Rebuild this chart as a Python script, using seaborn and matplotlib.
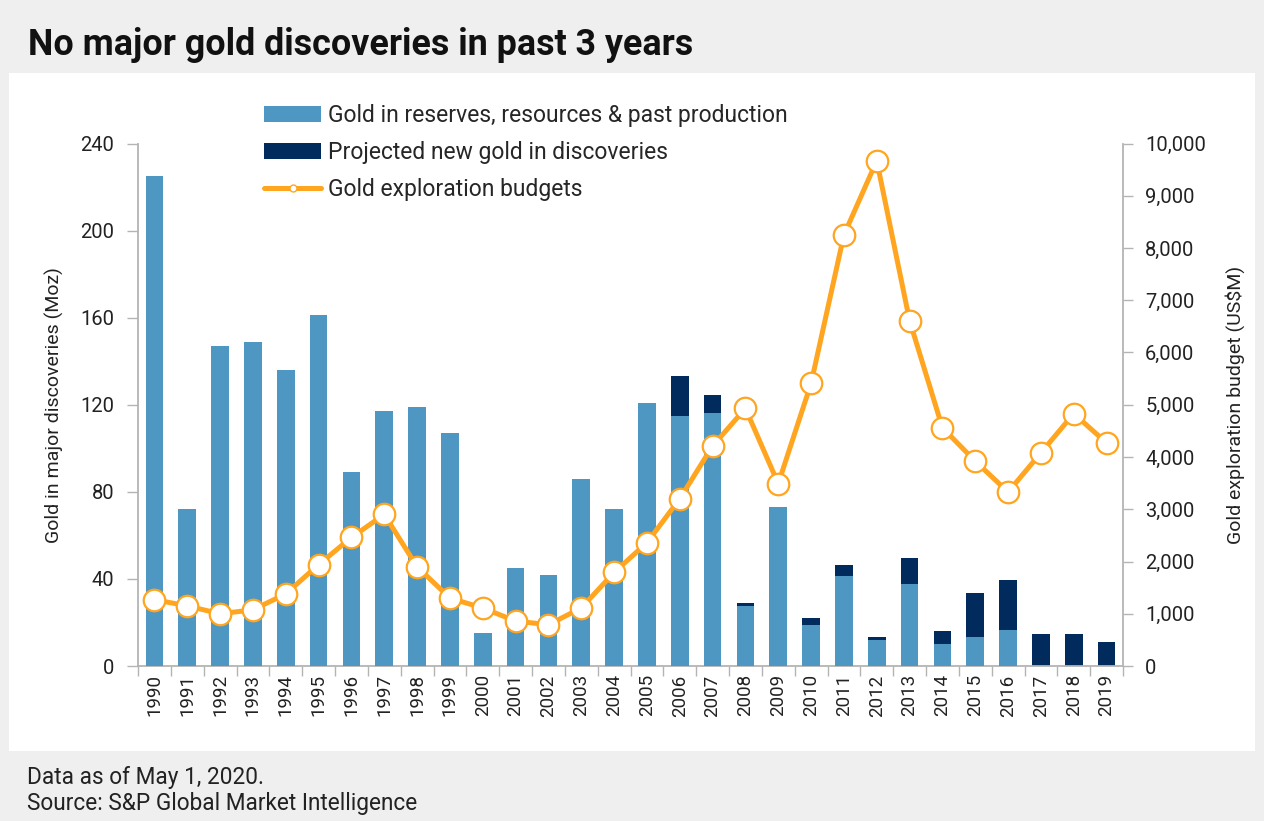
import matplotlib
matplotlib.use("Agg")
import matplotlib.pyplot as plt
import matplotlib.ticker as mticker
from matplotlib.patches import Rectangle, Patch
from matplotlib.lines import Line2D
import numpy as np
import pandas as pd
import seaborn as sns

sns.set_theme(style="white")
plt.rcParams['font.family'] = ['Roboto', 'DejaVu Sans']

## Data
years = [str(y) for y in range(1990, 2020)]
reserves = [225, 72, 147, 149, 136, 161, 89, 117, 119, 107,
            15, 45, 42, 86, 72, 121, 115, 116, 27.5, 73,
            19, 41.5, 12, 37.5, 10, 13.5, 16.5, 0, 0, 0]
projected = [0, 0, 0, 0, 0, 0, 0, 0, 0, 0,
             0, 0, 0, 0, 0, 0, 18, 8.5, 1.5, 0,
             3, 5, 1.5, 12, 6, 20, 23, 14.5, 14.5, 11]
budgets = [1270, 1150, 1000, 1075, 1380, 1940, 2460, 2900, 1900, 1300,
           1110, 860, 790, 1110, 1790, 2360, 3200, 4210, 4930, 3490,
           5410, 8250, 9670, 6610, 4560, 3920, 3330, 4080, 4830, 4270]

df = pd.DataFrame({"Year": years, "Reserves": reserves, "Projected": projected,
                   "Budget": budgets})
df["Total"] = df["Reserves"] + df["Projected"]
df["pos"] = np.arange(len(df))

light_blue = "#4E97C2"
navy = "#002B5C"
orange = "#FFA51F"
grey = "#B4B4B4"

## Figure
fig = plt.figure(figsize=(12.64, 8.21), dpi=100)
fig.patch.set_facecolor("#EFEFEF")
fig.patches.append(Rectangle((9 / 1264, 1 - 751 / 821), 1246 / 1264, 678 / 821,
                             transform=fig.transFigure, facecolor="white",
                             edgecolor="none", zorder=-5))

ax = fig.add_axes([138 / 1264, 1 - 666 / 821, 985 / 1264, 522.5 / 821])
ax.set_facecolor("none")

sns.barplot(data=df, x="Year", y="Total", color=navy, width=0.54, ax=ax,
            saturation=1, linewidth=0, zorder=2)
sns.barplot(data=df, x="Year", y="Reserves", color=light_blue, width=0.54, ax=ax,
            saturation=1, linewidth=0, zorder=3)

ax.set_xlim(-0.5, len(df) - 0.5)
ax.set_ylim(0, 240)
ax.set_yticks(np.arange(0, 241, 40))
ax.tick_params(axis="y", labelsize=14.5, colors="#222222", length=8, width=1,
               direction="out", left=True, color=grey, pad=9)
ax.tick_params(axis="x", labelsize=13.5, rotation=90, length=0, pad=6, colors="#222222")
ax.xaxis.set_minor_locator(mticker.FixedLocator(np.arange(-0.5, len(df), 1)))
ax.tick_params(axis="x", which="minor", bottom=True, length=7, width=1, color=grey,
               direction="out")
ax.set_xlabel("")
ax.set_ylabel("Gold in major discoveries (Moz)", fontsize=14, color="#222222",
              labelpad=12)
for s in ["top", "right"]:
    ax.spines[s].set_visible(False)
for s in ["left", "bottom"]:
    ax.spines[s].set_color(grey)
    ax.spines[s].set_linewidth(1.3)
ax.grid(False)

## Secondary axis
ax2 = ax.twinx()
sns.lineplot(data=df, x="pos", y="Budget", ax=ax2, color=orange, linewidth=3.6,
             marker="o", markersize=15.5, markerfacecolor="white",
             markeredgecolor=orange, markeredgewidth=1.6, zorder=5)
ax2.set_ylim(0, 10000)
ax2.set_yticks(np.arange(0, 10001, 1000))
ax2.yaxis.set_major_formatter(mticker.StrMethodFormatter("{x:,.0f}"))
ax2.tick_params(axis="y", labelsize=14.5, colors="#222222", length=7, width=1,
                direction="out", right=True, color=grey, pad=9)
ax2.set_ylabel("Gold exploration budget (US$M)", fontsize=14, color="#222222",
               labelpad=14)
ax2.set_xlabel("")
for s in ["top", "left", "bottom"]:
    ax2.spines[s].set_visible(False)
ax2.spines["right"].set_color(grey)
ax2.spines["right"].set_linewidth(1.3)
ax2.grid(False)

## Legend
handles = [Patch(facecolor=light_blue, edgecolor="none"),
           Patch(facecolor=navy, edgecolor="none"),
           Line2D([0], [0], color=orange, linewidth=3.6, marker="o", markersize=5,
                  markerfacecolor="white", markeredgecolor=orange)]
labels = ["Gold in reserves, resources & past production",
          "Projected new gold in discoveries",
          "Gold exploration budgets"]
fig.legend(handles, labels, loc="upper left", bbox_to_anchor=(255 / 1264, 1 - 95 / 821),
           frameon=False, fontsize=16.5, handlelength=2.5, handleheight=0.7,
           handletextpad=0.3, labelspacing=0.6, borderaxespad=0)

## Titles
fig.text(28 / 1264, 1 - 45 / 821, "No major gold discoveries in past 3 years",
         fontsize=25.8, fontweight="bold", color="#111111", va="center", ha="left")
fig.text(27 / 1264, 1 - 777 / 821, "Data as of May 1, 2020.", fontsize=16.3,
         color="#222222", va="center", ha="left")
fig.text(27 / 1264, 1 - 803 / 821, "Source: S&P Global Market Intelligence",
         fontsize=16.3, color="#222222", va="center", ha="left")

fig.savefig("out.png", dpi=100, facecolor=fig.get_facecolor())
